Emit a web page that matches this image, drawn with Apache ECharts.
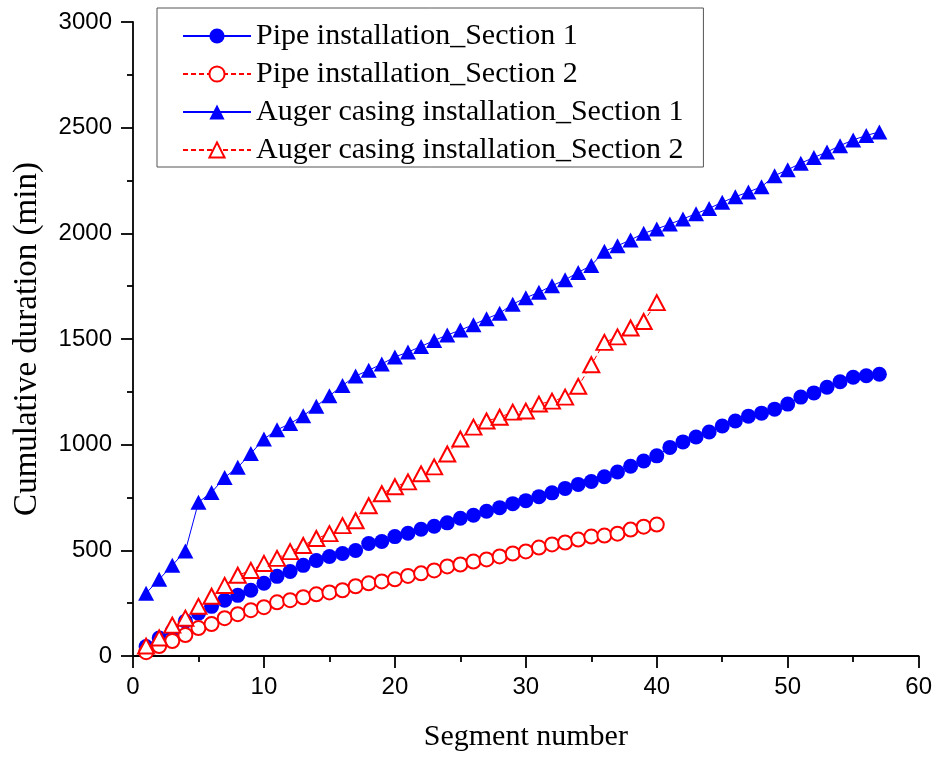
<!DOCTYPE html>
<html>
<head>
<meta charset="utf-8">
<script src="https://cdn.jsdelivr.net/npm/echarts@6/dist/echarts.min.js"></script>
<style>html,body{margin:0;padding:0;background:#fff;}#c{width:935px;height:757px;}</style>
</head>
<body>
<div id="c"></div>
<script>
const seriesNames = ['Pipe installation_Section 1','Pipe installation_Section 2','Auger casing installation_Section 1','Auger casing installation_Section 2'];
const pipeSection1 = [45,85,118,165,202,235,264,287,311,344,377,400,429,452,471,485,499,532,542,565,581,600,614,630,652,666,685,702,721,735,754,772,793,812,826,848,871,898,923,947,987,1013,1036,1060,1088,1112,1135,1149,1168,1192,1225,1245,1272,1298,1319,1326,1333];
const pipeSection2 = [18,47,71,99,132,151,179,198,217,231,254,264,278,292,301,311,330,344,353,363,379,391,405,424,433,447,457,471,485,495,513,528,537,551,565,570,579,598,612,622];
const augerSection1 = [297,363,429,497,728,774,845,893,958,1027,1070,1100,1137,1182,1231,1280,1325,1352,1382,1415,1438,1465,1493,1519,1542,1568,1596,1622,1665,1695,1721,1752,1780,1815,1848,1915,1941,1969,2000,2021,2044,2068,2093,2118,2147,2173,2196,2220,2273,2301,2332,2359,2385,2415,2442,2463,2480];
const augerSection2 = [47,85,146,179,235,283,334,382,405,438,462,494,523,556,579,617,640,711,768,801,824,862,895,956,1027,1083,1112,1130,1154,1159,1192,1206,1225,1276,1378,1484,1510,1552,1583,1672];
const xTicks = {min:0, max:60, interval:10};
const yTicks = {min:0, max:3000, interval:500};

const toXY = arr => arr.map((v,i)=>[i+1, v]);
const BLUE = '#0000ff', RED = '#ff0000';
const serif = 'Liberation Serif';
const sans = 'Liberation Sans';

const chart = echarts.init(document.getElementById('c'), null, {renderer:'canvas'});
chart.setOption({
  animation:false,
  backgroundColor:'#fff',
  grid:{left:133, right:16, top:22, bottom:97, containLabel:false},
  legend:{
    orient:'vertical', left:157, top:8,
    backgroundColor:'#fff',
    borderColor:'#555', borderWidth:1,
    padding:[13,20,2,25],
    itemWidth:68, itemHeight:19, itemGap:8,
    textStyle:{fontFamily:serif, fontSize:30, color:'#000', lineHeight:30},
    data:seriesNames
  },
  xAxis:{
    type:'value', min:xTicks.min, max:xTicks.max, interval:xTicks.interval,
    name:'Segment number', nameLocation:'middle', nameGap:66,
    nameTextStyle:{fontFamily:serif, fontSize:30, color:'#000'},
    axisLine:{show:true, onZero:false, lineStyle:{color:'#000', width:1.8}},
    axisTick:{show:true, inside:false, length:12, lineStyle:{color:'#000', width:1.8}},
    minorTick:{show:true, splitNumber:2, length:6, lineStyle:{color:'#000', width:1.8}},
    axisLabel:{fontFamily:sans, fontSize:24, color:'#000', margin:19, formatter:v=>String(v)},
    splitLine:{show:false}
  },
  yAxis:{
    type:'value', min:yTicks.min, max:yTicks.max, interval:yTicks.interval,
    name:'Cumulative duration (min)', nameLocation:'middle', nameGap:89,
    nameTextStyle:{fontFamily:serif, fontSize:33, color:'#000'},
    axisLine:{show:true, onZero:false, lineStyle:{color:'#000', width:1.8}},
    axisTick:{show:true, inside:false, length:12, lineStyle:{color:'#000', width:1.8}},
    minorTick:{show:true, splitNumber:2, length:6, lineStyle:{color:'#000', width:1.8}},
    axisLabel:{fontFamily:sans, fontSize:24, color:'#000', margin:21, formatter:v=>String(v)},
    splitLine:{show:false}
  },
  series:[
    {name:seriesNames[0], type:'line', data:toXY(pipeSection1), symbol:'circle', symbolSize:15,
     itemStyle:{color:BLUE}, lineStyle:{color:BLUE, width:1}},
    {name:seriesNames[1], type:'line', data:toXY(pipeSection2), symbol:'emptyCircle', symbolSize:14,
     itemStyle:{color:RED, borderColor:RED, borderWidth:1.3}, lineStyle:{color:RED, width:1, type:[5,3]}},
    {name:seriesNames[2], type:'line', data:toXY(augerSection1), symbol:'triangle', symbolSize:[16,15],
     itemStyle:{color:BLUE}, lineStyle:{color:BLUE, width:1}},
    {name:seriesNames[3], type:'line', data:toXY(augerSection2), symbol:'emptyTriangle', symbolSize:[16,15],
     itemStyle:{color:RED, borderColor:RED, borderWidth:1.3}, lineStyle:{color:RED, width:1, type:[5,3]}}
  ]
});
</script>
</body>
</html>
